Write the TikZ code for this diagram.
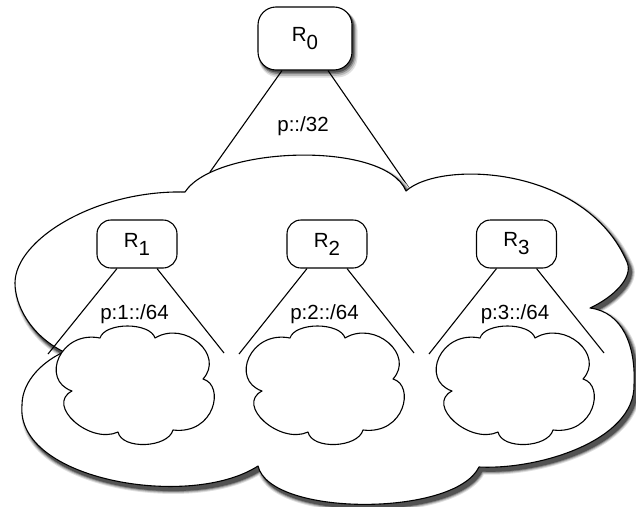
\documentclass[tikz,border=0pt]{standalone}
\usepackage{fontspec}
\setmainfont{Liberation Sans}
\newcommand{\subsc}[1]{\raisebox{-8pt}{#1}}
\newcommand{\smallcloudpath}[1]{%
  \draw[cloudline, shift={(#1,0)}] (100,338) .. controls (105,322) and (150,322) .. (155,338)
    .. controls (185,320) and (225,355) .. (203,379)
    .. controls (225,385) and (215,435) .. (173,430)
    .. controls (168,448) and (122,450) .. (118,432)
    .. controls (90,445) and (45,405) .. (72,391)
    .. controls (40,380) and (60,330) .. (100,338) -- cycle;}
\newcommand{\bigcloudpath}{(185,192)
  .. controls (215,146) and (385,140) .. (406,191)
  .. controls (440,160) and (585,165) .. (627,262)
  .. controls (634,278) and (612,298) .. (590,308)
  .. controls (622,312) and (636,345) .. (634,385)
  .. controls (635,440) and (540,470) .. (479,467)
  .. controls (455,517) and (270,517) .. (258,466)
  .. controls (190,510) and (15,480) .. (22,405)
  .. controls (22,380) and (45,360) .. (64,352)
  .. controls (30,335) and (15,305) .. (15,283)
  .. controls (15,240) and (95,190) .. (185,192) -- cycle}
\definecolor{shadeA}{gray}{0.88}
\definecolor{shadeB}{gray}{0.72}
\definecolor{shadeC}{gray}{0.52}
\definecolor{shadeD}{gray}{0.32}
\begin{document}
\begin{tikzpicture}[x=1pt,y=-1pt,
  line width=1.1pt, line join=round,
  txt/.style={font=\fontsize{20.5}{24}\selectfont},
  router/.style={draw, fill=white, txt, rounded corners=14pt, minimum width=80pt, minimum height=48pt, inner sep=0pt},
  lbl/.style={txt, inner sep=0pt},
  cloudline/.style={draw, fill=white},
  shadestroke/.style={draw=#1, fill=#1}
]
\useasboundingbox (0,0) rectangle (636,506);

% top router and its prefix lines
\coordinate (e0l) at (210,172);
\coordinate (e0r) at (409,188);
\draw[shadestroke=shadeA, line width=5pt, rounded corners=18pt] (261,12) rectangle (355,75);
\draw[shadestroke=shadeB, line width=3.5pt, rounded corners=18pt] (260.5,11) rectangle (354.5,74);
\draw[shadestroke=shadeC, line width=2pt, rounded corners=18pt] (260,10) rectangle (354,73);
\draw[shadestroke=shadeD, line width=1pt, rounded corners=18pt] (259.5,9) rectangle (353.5,72);
\node[router, rounded corners=18pt, minimum width=94pt, minimum height=63pt] (R0) at (305,38.5) {R\subsc{0}};
\draw ([xshift=-23pt]R0.south) -- (e0l);
\draw ([xshift=23pt]R0.south) -- (e0r);
\node[lbl] (p0) at (303,126) {p::/32};

% big cloud with a soft shadow
\begin{scope}[xshift=3pt, yshift=-4pt]
  \draw[shadestroke=shadeA, line width=7pt] \bigcloudpath;
  \draw[shadestroke=shadeB, line width=5pt] \bigcloudpath;
  \draw[shadestroke=shadeC, line width=3pt] \bigcloudpath;
  \draw[shadestroke=shadeD, line width=1.2pt] \bigcloudpath;
\end{scope}
\path[cloudline] \bigcloudpath;

% lower routers
\node[router] (R1) at (137,244) {R\subsc{1}};
\node[router] (R2) at (327,244) {R\subsc{2}};
\node[router] (R3) at (516.5,244) {R\subsc{3}};

\coordinate (e1l) at (48,354);
\coordinate (e1r) at (224,353);
\coordinate (e2l) at (239,354);
\coordinate (e2r) at (414,353);
\coordinate (e3l) at (429,354);
\coordinate (e3r) at (604,353);
\draw ([xshift=-20pt]R1.south) -- (e1l);
\draw ([xshift=20pt]R1.south) -- (e1r);
\draw ([xshift=-20pt]R2.south) -- (e2l);
\draw ([xshift=20pt]R2.south) -- (e2r);
\draw ([xshift=-20pt]R3.south) -- (e3l);
\draw ([xshift=20pt]R3.south) -- (e3r);

\node[lbl] (p1) at (134.5,314) {p:1::/64};
\node[lbl] (p2) at (324.5,314) {p:2::/64};
\node[lbl] (p3) at (515,314) {p:3::/64};

% small clouds
\smallcloudpath{0}
\smallcloudpath{190}
\smallcloudpath{380}
\end{tikzpicture}
\end{document}
